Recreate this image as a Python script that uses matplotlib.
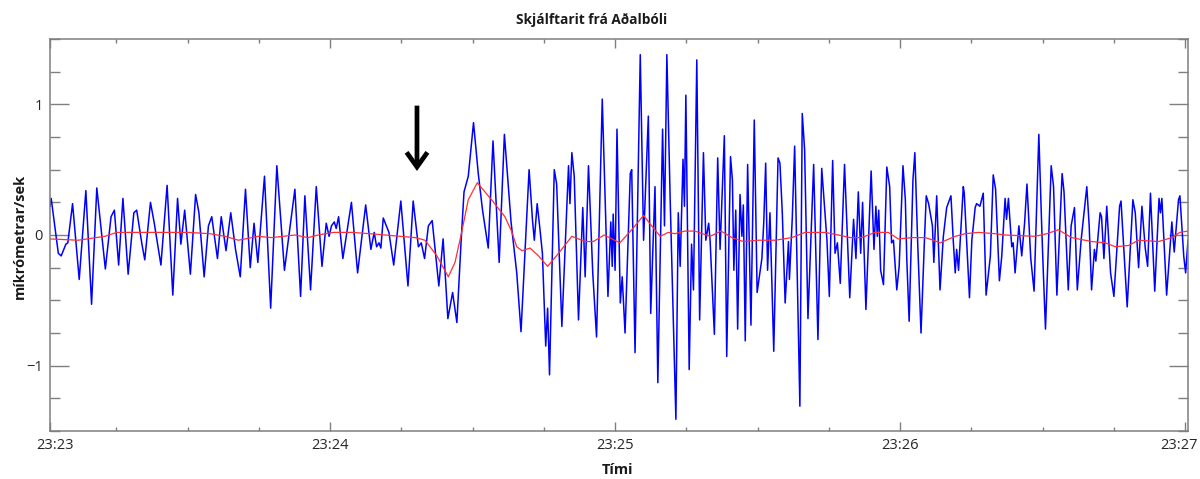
import matplotlib
matplotlib.use('Agg')
import matplotlib.pyplot as plt
from matplotlib.ticker import FixedLocator, MultipleLocator
from matplotlib.transforms import ScaledTranslation

# seismogram from Aðalból
# time in seconds after 23:23:00, velocity in micrometres/sec

# blue trace (turning points of the raw signal)
raw_t = [1.05, 1.3, 2.8, 3.4, 4.4, 4.8, 5.8, 7.2, 8.6, 9.8, 10.9, 12.7, 13.9, 14.6, 15.5, 16.4,
	17.5, 18.7, 19.3, 20.4, 21.0, 22.2, 23.0, 24.4, 25.7, 26.9, 27.9, 28.6, 29.4, 30.6, 31.7, 32.4,
	33.5, 34.4, 35.1, 36.3, 37.1, 38.1, 39.1, 40.1, 41.1, 42.2, 43.2, 44.0, 44.8, 46.2, 47.5, 48.8,
	50.4, 52.6, 53.8, 54.7, 55.9, 57.1, 58.3, 59.2, 59.8, 60.3, 60.9, 61.3, 61.8, 62.7, 64.5, 65.8,
	67.5, 68.6, 69.3, 69.8, 70.3, 70.7, 71.2, 72.4, 73.4, 74.9, 76.4, 77.5, 78.6, 79.2, 79.9, 80.7,
	81.5, 82.9, 83.8, 84.8, 85.8, 86.7, 87.6, 88.2, 89.1, 90.2, 91.2, 92.1, 93.3, 94.3, 95.6, 96.7,
	98.1, 99.3, 100.2, 101.9, 102.6, 103.0, 103.6, 104.2, 104.7, 105.4, 105.8, 106.2, 107.2, 107.7,
	108.8, 110.2, 110.5, 110.9, 111.4, 112.3, 113.2, 113.7, 114.4, 115.3, 116.1, 117.3, 118.5, 119.1,
	119.4, 119.6, 120.0, 120.4, 121.1, 121.5, 122.1, 123.2, 123.5, 124.2, 125.3, 126.0, 127.0, 127.5,
	128.4, 129.0, 130.0, 130.4, 130.9, 131.6, 132.8, 133.3, 133.7, 134.3, 134.6, 134.9, 135.6, 136.1,
	136.5, 137.2, 137.8, 138.6, 139.1, 139.7, 140.0, 140.9, 141.6, 142.1, 143.0, 143.5, 144.3, 144.7,
	145.0, 145.4, 145.8, 146.3, 146.7, 147.0, 147.4, 147.9, 148.6, 149.3, 149.9, 150.9, 151.3, 151.7,
	152.1, 152.6, 153.4, 154.3, 154.7, 155.2, 155.8, 156.5, 156.7, 157.3, 157.8, 158.9, 159.4, 159.9,
	160.6, 161.8, 162.7, 163.5, 164.6, 165.1, 165.8, 166.3, 166.8, 167.4, 168.3, 169.4, 170.2, 170.7,
	171.2, 171.7, 172.1, 172.8, 173.9, 174.5, 174.9, 175.2, 175.5, 175.9, 176.5, 177.2, 177.8, 178.2,
	178.6, 179.3, 179.8, 180.6, 181.1, 181.4, 181.9, 182.7, 183.1, 183.7, 184.4, 185.1, 185.5, 186.0,
	186.8, 187.1, 187.7, 188.4, 189.1, 189.8, 190.7, 191.2, 191.6, 191.9, 192.3, 193.3, 193.5, 194.6,
	195.1, 195.8, 196.1, 196.8, 197.5, 198.1, 199.0, 199.6, 200.1, 200.9, 201.4, 202.1, 202.4, 202.8,
	203.5, 203.8, 204.2, 205.0, 205.6, 206.2, 206.7, 207.5, 208.2, 209.2, 209.8, 210.2, 210.6, 211.8,
	212.3, 213.0, 214.1, 214.5, 215.4, 216.0, 216.7, 217.3, 218.1, 219.3, 219.8, 220.3, 220.9, 221.2,
	222.1, 222.4, 222.9, 223.5, 224.3, 225.0, 226.2, 226.5, 227.8, 229.0, 229.5, 230.2, 230.9, 231.6,
	232.1, 232.7, 233.6, 234.5, 234.8, 235.1, 236.1, 237.2, 237.7, 238.6, 238.9, 239.7, 240.1, 240.6]
raw_v = [0.22, 0.28, -0.14, -0.16, -0.07, -0.06, 0.24, -0.34, 0.34, -0.53, 0.36, -0.26, 0.14, 0.19, -0.23, 0.28,
	-0.30, 0.17, 0.19, -0.07, -0.19, 0.25, 0.09, -0.23, 0.38, -0.46, 0.28, -0.07, 0.19, -0.30, 0.31, 0.17,
	-0.32, 0.07, 0.14, -0.18, 0.14, -0.12, 0.17, -0.11, -0.32, 0.35, -0.25, 0.09, -0.21, 0.45, -0.56, 0.53,
	-0.27, 0.35, -0.47, 0.30, -0.42, 0.37, -0.24, 0.09, -0.01, 0.07, 0.10, 0.05, 0.14, -0.18, 0.25, -0.29,
	0.23, -0.11, 0.02, -0.09, -0.06, -0.10, 0.13, 0.02, -0.23, 0.26, -0.39, 0.26, -0.09, -0.06, -0.18, 0.07,
	0.11, -0.39, -0.03, -0.64, -0.44, -0.67, -0.04, 0.33, 0.45, 0.86, 0.47, 0.19, -0.10, 0.72, -0.21, 0.77,
	0.10, -0.29, -0.74, 0.50, 0.12, -0.04, 0.24, 0.04, -0.14, -0.85, -0.56, -1.07, 0.50, 0.39,
	-0.70, 0.53, 0.24, 0.63, 0.45, -0.65, 0.21, -0.32, 0.53, -0.29, -0.78, 1.04, -0.47, 0.10,
	-0.24, 0.16, -0.27, 0.81, -0.52, -0.32, -0.75, 0.47, 0.50, -0.90, 1.38, -0.04, 0.91, -0.60,
	0.37, -1.13, 0.81, 0.07, 1.38, 0.27, -1.41, 0.17, -0.24, 0.58, 0.22, 1.07, -1.03, -0.07,
	-0.42, 1.34, -0.65, 0.63, -0.04, 0.09, -0.04, -0.76, 0.59, -0.11, 0.76, -0.93, 0.60, 0.42,
	-0.27, 0.19, -0.72, 0.31, -0.01, 0.23, -0.81, 0.54, -0.69, 0.88, -0.44, -0.18, 0.10, 0.55,
	-0.27, 0.17, -0.89, 0.59, 0.55, 0.17, -0.52, -0.05, -0.34, 0.13, 0.68, -1.31, 0.93, 0.65,
	-0.64, 0.54, -0.80, 0.51, -0.04, -0.47, 0.57, -0.14, -0.06, -0.37, 0.54, -0.48, 0.12, -0.18,
	0.33, -0.14, 0.25, -0.57, 0.49, -0.11, 0.22, -0.01, 0.19, -0.27, -0.38, 0.52, 0.37, -0.06,
	-0.04, -0.42, -0.24, 0.53, 0.27, -0.18, -0.66, 0.42, 0.63, -0.06, -0.75, -0.06, 0.30, 0.24,
	0.07, -0.21, 0.30, -0.42, -0.01, 0.21, 0.30, -0.05, -0.29, -0.11, -0.27, 0.37, 0.32, -0.48,
	-0.04, 0.21, 0.24, 0.22, 0.32, -0.46, -0.16, 0.46, 0.35, -0.35, -0.16, 0.28, 0.12, 0.28,
	-0.09, -0.06, -0.29, 0.07, -0.16, 0.09, 0.39, -0.18, -0.43, 0.77, 0.07, -0.34, -0.72, 0.53,
	0.37, -0.46, 0.47, 0.33, -0.42, 0.07, 0.21, -0.42, -0.04, 0.37, 0.07, -0.42, -0.11, -0.20,
	0.17, 0.14, -0.18, 0.22, -0.29, -0.47, 0.22, 0.26, -0.55, 0.27, 0.17, -0.25, 0.22, -0.10,
	-0.24, 0.32, -0.43, 0.28, 0.17, 0.28, -0.46, 0.10, -0.13, 0.27, 0.30, -0.16, -0.29, -0.04]

# red trace (long period, filtered)
filt_t = [1.05, 7.0, 12.6, 15.1, 28.1, 30.2, 34.7, 37.9, 40.7, 44.9, 47.7, 52.6, 55.4, 57.5, 60.7, 64.6,
	68.4, 77.9, 80.0, 82.5, 84.9, 86.3, 87.7, 89.1, 91.0, 92.6, 94.0, 96.8, 98.2, 99.3, 100.4, 102.1,
	103.9, 105.8, 108.1, 110.9, 113.7, 115.4, 117.7, 121.0, 123.5, 126.0, 127.7, 129.5, 131.2, 132.6,
	134.7, 136.8, 140.0, 142.3, 144.6, 147.0, 150.2, 153.7, 157.2, 160.0, 164.2, 167.0, 169.5, 171.9,
	174.7, 177.5, 179.6, 182.5, 185.3, 187.0, 188.4, 191.6, 193.7, 196.5, 200.0, 202.1, 208.4, 210.9,
	213.3, 216.1, 220.3, 223.2, 225.3, 228.1, 230.2, 234.4, 237.2, 238.9, 240.6]
filt_v = [-0.03, -0.04, -0.01, 0.02, 0.02, 0.02, 0.01, -0.01, -0.04, -0.01, -0.02, 0.0, -0.02, 0.0, 0.02, 0.02,
	0.01, -0.02, -0.04, -0.16, -0.32, -0.21, 0.02, 0.27, 0.40, 0.33, 0.27, 0.14, 0.03, -0.09, -0.12, -0.10,
	-0.16, -0.24, -0.14, -0.01, -0.05, -0.05, 0.0, -0.06, 0.04, 0.15, 0.07, -0.01, 0.02, 0.01,
	0.03, 0.03, -0.01, 0.03, -0.02, -0.05, -0.04, -0.04, -0.02, 0.02, 0.02, 0.0, -0.02, -0.02,
	0.02, 0.02, -0.03, -0.02, -0.02, -0.04, -0.06, -0.01, 0.01, 0.02, 0.01, 0.0, -0.01, 0.01,
	0.04, -0.02, -0.05, -0.06, -0.09, -0.08, -0.04, -0.05, -0.02, 0.02, 0.03]

minute_ticks = [1.05, 60, 120, 180, 240]
minute_labels = ['23:23', '23:24', '23:25', '23:26', '23:27']
arrival_t = 78.3   # P-wave arrival marked with the arrow

plt.rcParams['font.family'] = ['Open Sans', 'DejaVu Sans']

fig = plt.figure(figsize=(12, 4.79), dpi=100)
ax = fig.add_axes([50 / 1200, 48 / 479, 1138 / 1200, 392 / 479])

ax.plot(raw_t, raw_v, color='#0000ff', lw=1.1)
ax.plot(filt_t, filt_v, color='#ff3030', lw=0.9)

# open chevron arrow, thick strokes
ax.annotate('', xy=(arrival_t, 0.49), xytext=(arrival_t, 0.99),
	arrowprops=dict(arrowstyle='->,head_width=0.75,head_length=1.05', color='black', lw=3.4,
		shrinkA=0, shrinkB=0, joinstyle='miter', capstyle='butt'))

ax.set_xlim(1.05, 240.6)
ax.set_ylim(-1.5, 1.5)

ax.xaxis.set_major_locator(FixedLocator(minute_ticks))
ax.set_xticklabels(minute_labels)
ax.xaxis.set_minor_locator(MultipleLocator(15))
ax.set_yticks([-1, 0, 1])
ax.set_yticklabels(['\u22121', '0', '1'])
ax.yaxis.set_minor_locator(MultipleLocator(0.25))

grey = '#7f7f7f'
for s in ax.spines.values():
	s.set_color(grey)
	s.set_linewidth(1.1)
ax.tick_params(axis='both', which='both', direction='in', colors=grey, labelcolor='#262626',
	labelsize=10.5, top=True, right=True, width=1.0)
ax.tick_params(axis='x', which='major', length=6.5, pad=5)
ax.tick_params(axis='x', which='minor', length=3)
ax.tick_params(axis='y', which='major', length=13.5, pad=5)
ax.tick_params(axis='y', which='minor', length=7)

# end labels sit a little inside the frame, like in the original
xlabels = ax.get_xticklabels()
xlabels[0].set_transform(xlabels[0].get_transform() + ScaledTranslation(5 / 100, 0, fig.dpi_scale_trans))
xlabels[-1].set_transform(xlabels[-1].get_transform() + ScaledTranslation(-6 / 100, 0, fig.dpi_scale_trans))

fig.text(592 / 1200, 1 - 20 / 479, 'Skjálftarit frá Aðalbóli', ha='center', va='center',
	fontsize=9.8, fontweight='bold', color='#1a1a1a')
fig.text(617 / 1200, 1 - 470 / 479, 'Tími', ha='center', va='center',
	fontsize=10.5, fontweight='bold', color='#1a1a1a')
fig.text(20 / 1200, 1 - 236 / 479, 'míkrómetrar/sek', ha='center', va='center', rotation=90,
	fontsize=10.5, fontweight='bold', color='#1a1a1a')

fig.savefig('out.png', dpi=100)
